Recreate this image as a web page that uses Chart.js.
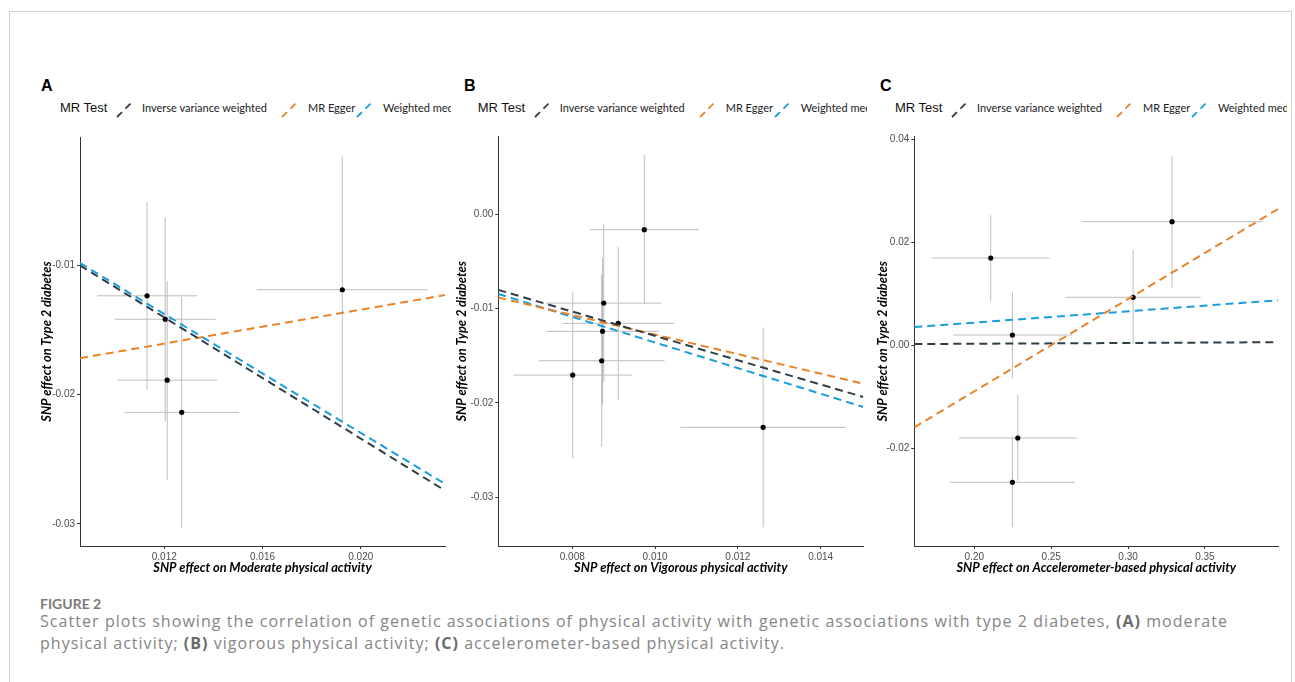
<!DOCTYPE html>
<html lang="en">
<head>
<meta charset="UTF-8">
<title>MR scatter plots - physical activity and type 2 diabetes</title>
<script src="https://cdn.jsdelivr.net/npm/chart.js"></script>
<style>
body {
    margin: 0;
    background: #fff;
    width: 1295px;
    height: 682px;
    overflow: hidden;
    position: relative;
    font-family: 'Liberation Sans', Arial, sans-serif;
}
#frame {
    position: absolute;
    left: 9px;
    top: 11px;
    width: 1281px;
    height: 720px;
    border: 1px solid #d2d2d2;
}
.letter {
    position: absolute;
    top: 77px;
    font: bold 16px 'Liberation Sans', Arial, sans-serif;
    color: #000;
}
.legend {
    position: absolute;
    top: 98px;
    height: 22px;
    overflow: hidden;
    white-space: nowrap;
}
.legend .ttl {
    position: absolute;
    top: 2px;
    font: 13px 'Liberation Sans', Arial, sans-serif;
    color: #111;
}
.legend .lab {
    position: absolute;
    top: 3px;
    font: 11px Lato, sans-serif;
    color: #222;
}
.legend svg {
    position: absolute;
    top: 3px;
}
canvas.panel {
    position: absolute;
    top: 125px;
}
.cap {
    position: absolute;
    left: 40px;
    white-space: nowrap;
    color: #858585;
    font-family: 'Open Sans', sans-serif;
    font-size: 16px;
    line-height: 16px;
}
.cap b { color: #6a6a6a; }
#figno {
    font-family: Lato, sans-serif;
    font-size: 14px;
    font-weight: 700;
    color: #7a7a7a;
    line-height: normal;
}
</style>
</head>
<body>
<div id="frame"></div>

<div class="letter" style="left:41px">A</div>
<div class="letter" style="left:464px">B</div>
<div class="letter" style="left:880px">C</div>

<div class="legend" id="legA" style="left:30px;width:421px"></div>
<div class="legend" id="legB" style="left:450px;width:417px"></div>
<div class="legend" id="legC" style="left:870px;width:417px"></div>

<canvas class="panel" id="chartA" width="420" height="460" style="left:30px"></canvas>
<canvas class="panel" id="chartB" width="420" height="460" style="left:450px"></canvas>
<canvas class="panel" id="chartC" width="420" height="460" style="left:870px"></canvas>

<div class="cap" id="figno" style="top:595px">FIGURE 2</div>
<div class="cap" id="cap1" style="top:613px">Scatter plots showing the correlation of genetic associations of physical activity with genetic associations with type 2 diabetes, <b>(A)</b> moderate</div>
<div class="cap" id="cap2" style="top:635px">physical activity; <b>(B)</b> vigorous physical activity; <b>(C)</b> accelerometer-based physical activity.</div>

<script>
// ---- data ----
const methodNames = ['Inverse variance weighted', 'MR Egger', 'Weighted median'];
const methodColors = ['#2f3f48', '#e8832a', '#1b9ddb'];

// A: moderate physical activity
const modX = [0.0113, 0.01204, 0.01212, 0.01271, 0.01925];
const modXSe = [0.00204, 0.00205, 0.00204, 0.00233, 0.00348];
const modY = [-0.01237, -0.01418, -0.01889, -0.02137, -0.0119];
const modYSe = [0.00725, 0.00787, 0.00768, 0.0089, 0.0103];
const modSlopes = [-1.17, 0.328, -1.148];
const modIntercepts = [0, -0.0200, 0];
const modXRange = [0.00857, 0.02343];
const modYRange = [-0.0317, -0.0001];
const modXTicks = [0.012, 0.016, 0.020];
const modXLabels = ['0.012', '0.016', '0.020'];
const modYTicks = [-0.01, -0.02, -0.03];
const modYLabels = ['-0.01', '-0.02', '-0.03'];

// B: vigorous physical activity
const vigX = [0.00974, 0.00876, 0.00911, 0.00873, 0.00871, 0.00801, 0.01261];
const vigXSe = [0.00132, 0.00139, 0.00135, 0.00136, 0.00152, 0.00143, 0.0020];
const vigY = [-0.00163, -0.00942, -0.01157, -0.01242, -0.01554, -0.01706, -0.02261];
const vigYSe = [0.0079, 0.0084, 0.0081, 0.0078, 0.0091, 0.0088, 0.0106];
const vigSlopes = [-1.29, -1.038, -1.36];
const vigIntercepts = [0, -0.00238, 0];
const vigXRange = [0.006213, 0.01503];
const vigYRange = [-0.0352, 0.00824];
const vigXTicks = [0.008, 0.010, 0.012, 0.014];
const vigXLabels = ['0.008', '0.010', '0.012', '0.014'];
const vigYTicks = [0.00, -0.01, -0.02, -0.03];
const vigYLabels = ['0.00', '-0.01', '-0.02', '-0.03'];

// C: accelerometer-based physical activity
const accX = [0.2107, 0.3286, 0.3033, 0.2248, 0.2283, 0.2248];
const accXSe = [0.0382, 0.0585, 0.0439, 0.0387, 0.0382, 0.0406];
const accY = [0.01695, 0.0240, 0.00932, 0.0020, -0.0180, -0.0266];
const accYSe = [0.0083, 0.0128, 0.0091, 0.0084, 0.0083, 0.0087];
const accSlopes = [0.0015, 0.1792, 0.022];
const accIntercepts = [0, -0.04478, 0];
const accXRange = [0.161, 0.3977];
const accYRange = [-0.03897, 0.0405];
const accXTicks = [0.20, 0.25, 0.30, 0.35];
const accXLabels = ['0.20', '0.25', '0.30', '0.35'];
const accYTicks = [0.04, 0.02, 0.00, -0.02];
const accYLabels = ['0.04', '0.02', '0.00', '-0.02'];

// ---- caption: stretch the two lines to the widths seen in the figure ----
function fitWidth(id, target) {
    const el = document.getElementById(id);
    const w = el.getBoundingClientRect().width;
    const n = el.textContent.length - 1;
    el.style.letterSpacing = ((target - w) / n).toFixed(3) + 'px';
}
fitWidth('cap1', 1187);
fitWidth('cap2', 744);

// ---- legends ----
function keySvg(color) {
    return '<svg width="17" height="17" viewBox="0 0 17 17">' +
        '<line x1="1" y1="16" x2="16" y2="1" stroke="' + color + '" stroke-width="1.8" stroke-dasharray="7 5"/></svg>';
}

function buildLegend(id, start) {
    const offs = [56, 221, 296];
    const labOffs = [82, 248, 323];
    let html = '<span class="ttl" style="left:' + start + 'px">MR Test</span>';
    methodNames.forEach((name, i) => {
        html += '<span style="position:absolute;left:' + (start + offs[i]) + 'px;top:0">' + keySvg(methodColors[i]) + '</span>';
        html += '<span class="lab" style="left:' + (start + labOffs[i]) + 'px">' + name + '</span>';
    });
    document.getElementById(id).innerHTML = html;
}
buildLegend('legA', 30);
buildLegend('legB', 27.7);
buildLegend('legC', 25);

// ---- charts ----
const titleFont = { family: 'Lato', size: 12.8, style: 'italic', weight: 'bold' };
const tickFont = { family: "'Liberation Sans', Arial", size: 10 };

function makePanel(id, xs, xse, ys, yse, slopes, intercepts, xr, yr, xt, xl, yt, yl, xTitle, box) {
    let vBars = [], hBars = [], pts = [];
    for (let i = 0; i < xs.length; i++) {
        vBars.push({ x: xs[i], y: ys[i] - yse[i] }, { x: xs[i], y: ys[i] + yse[i] }, { x: xs[i], y: null });
        hBars.push({ x: xs[i] - xse[i], y: ys[i] }, { x: xs[i] + xse[i], y: ys[i] }, { x: xs[i], y: null });
        pts.push({ x: xs[i], y: ys[i] });
    }

    let datasets = [
        { data: vBars, showLine: true, borderColor: '#bdbdbd', borderWidth: 1, pointRadius: 0, spanGaps: false, order: 3 },
        { data: hBars, showLine: true, borderColor: '#bdbdbd', borderWidth: 1, pointRadius: 0, spanGaps: false, order: 3 },
        { data: pts, showLine: false, pointRadius: 2.6, pointBackgroundColor: '#000', pointBorderWidth: 0, order: 2 }
    ];
    methodNames.forEach((name, i) => {
        datasets.push({
            label: name,
            data: [
                { x: xr[0], y: intercepts[i] + slopes[i] * xr[0] },
                { x: xr[1], y: intercepts[i] + slopes[i] * xr[1] }
            ],
            showLine: true,
            borderColor: methodColors[i],
            borderWidth: 2,
            borderDash: [8, 5],
            pointRadius: 0,
            order: 1
        });
    });

    new Chart(document.getElementById(id), {
        type: 'scatter',
        data: { datasets: datasets },
        options: {
            responsive: false,
            animation: false,
            layout: { padding: { left: 0, right: box.right, top: box.top, bottom: 0 } },
            plugins: { legend: { display: false }, tooltip: { enabled: false } },
            scales: {
                x: {
                    type: 'linear',
                    min: xr[0], max: xr[1],
                    afterBuildTicks: s => { s.ticks = xt.map(v => ({ value: v })); },
                    afterFit: s => { s.height = 39; },
                    ticks: {
                        callback: (v, i) => xl[i],
                        font: tickFont, color: '#4d4d4d', padding: 2,
                        maxRotation: 0, autoSkip: false
                    },
                    grid: { drawOnChartArea: false, drawTicks: true, tickLength: 3, color: '#333' },
                    border: { display: true, color: '#333', width: 1 },
                    title: { display: true, text: xTitle, font: titleFont, color: '#000', padding: { top: 0, bottom: 9 } }
                },
                y: {
                    type: 'linear',
                    min: yr[0], max: yr[1],
                    afterBuildTicks: s => { s.ticks = yt.map(v => ({ value: v })); },
                    afterFit: s => { s.width = box.yw; },
                    ticks: {
                        callback: (v, i) => yl[i],
                        font: tickFont, color: '#4d4d4d', padding: 2, autoSkip: false
                    },
                    grid: { drawOnChartArea: false, drawTicks: true, tickLength: 3, color: '#333' },
                    border: { display: true, color: '#333', width: 1 },
                    title: { display: true, text: 'SNP effect on Type 2 diabetes', font: titleFont, color: '#000', padding: { top: box.yt, bottom: 0 } }
                }
            }
        }
    });
}

makePanel('chartA', modX, modXSe, modY, modYSe, modSlopes, modIntercepts,
    modXRange, modYRange, modXTicks, modXLabels, modYTicks, modYLabels,
    'SNP effect on Moderate physical activity', { yw: 50, right: 5, top: 12, yt: 9 });
makePanel('chartB', vigX, vigXSe, vigY, vigYSe, vigSlopes, vigIntercepts,
    vigXRange, vigYRange, vigXTicks, vigXLabels, vigYTicks, vigYLabels,
    'SNP effect on Vigorous physical activity', { yw: 48.3, right: 6.7, top: 11.7, yt: 4.5 });
makePanel('chartC', accX, accXSe, accY, accYSe, accSlopes, accIntercepts,
    accXRange, accYRange, accXTicks, accXLabels, accYTicks, accYLabels,
    'SNP effect on Accelerometer-based physical activity', { yw: 44.3, right: 11.7, top: 11.7, yt: 5 });
</script>
</body>
</html>
